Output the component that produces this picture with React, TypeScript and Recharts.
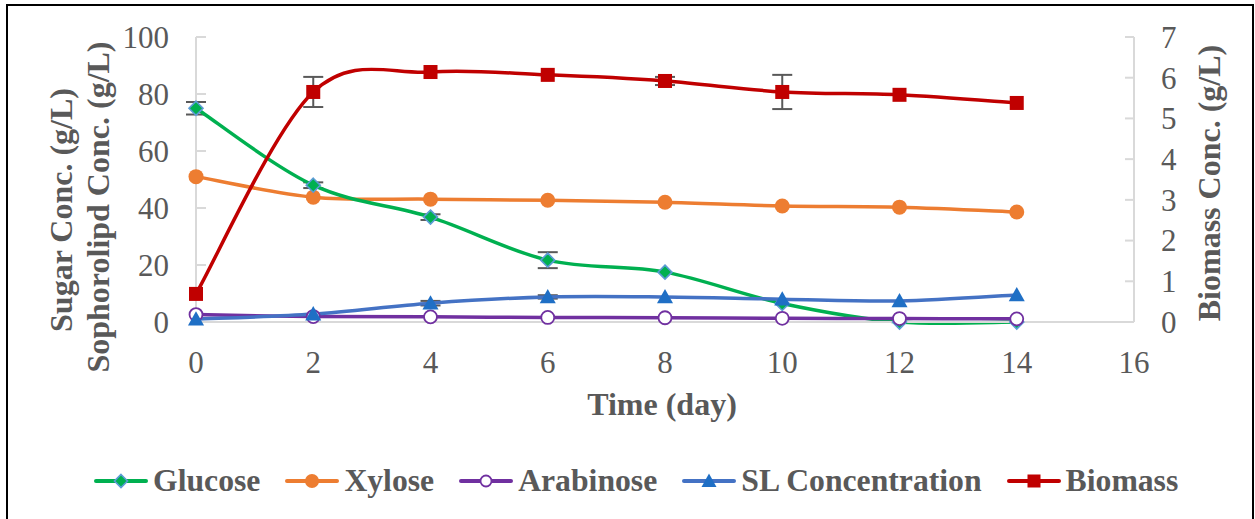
import { LineChart, Line, XAxis, YAxis, ErrorBar, Label } from 'recharts'

const days = [0, 2, 4, 6, 8, 10, 12, 14]
const glucose = [75, 48, 36.8, 21.7, 17.5, 6.5, 0, 0]
const glucoseErr = [2.2, 1, 1, 2.8, 0, 0, 0, 0]
const xylose = [51, 43.8, 43.1, 42.7, 42, 40.7, 40.3, 38.6]
const arabinose = [2.6, 1.9, 1.8, 1.6, 1.5, 1.3, 1.2, 1.1]
const slConc = [1, 2.8, 6.6, 8.8, 8.8, 8, 7.4, 9.5]
const slErr = [0, 0, 0.8, 0.6, 0, 0, 0, 0]
const biomass = [0.69, 5.65, 6.14, 6.07, 5.92, 5.65, 5.58, 5.38]
const biomassErr = [0, 0.37, 0, 0, 0.1, 0.42, 0, 0]

const xTicks = [0, 2, 4, 6, 8, 10, 12, 14, 16]
const leftTicks = [0, 20, 40, 60, 80, 100]
const rightTicks = [0, 1, 2, 3, 4, 5, 6, 7]

const data = days.map((d, i) => ({
  day: d,
  glucose: glucose[i], glucoseErr: glucoseErr[i],
  xylose: xylose[i],
  arabinose: arabinose[i],
  sl: slConc[i], slErr: slErr[i],
  biomass: biomass[i], biomassErr: biomassErr[i],
}))

const FONT = '"Liberation Serif", "Times New Roman", serif'
const GREY = '#595959'
const AXIS = '#d9d9d9'

// Excel-like smoothed line (Catmull-Rom style bezier)
function excelSmooth(context: any) {
  let pts: number[][] = []
  return {
    areaStart() {},
    areaEnd() {},
    lineStart() { pts = [] },
    point(x: number, y: number) { pts.push([+x, +y]) },
    lineEnd() {
      if (!pts.length) return
      context.moveTo(pts[0][0], pts[0][1])
      for (let i = 0; i < pts.length - 1; i++) {
        const p0 = pts[i - 1] || pts[i]
        const p1 = pts[i]
        const p2 = pts[i + 1]
        const p3 = pts[i + 2] || pts[i + 1]
        context.bezierCurveTo(
          p1[0] + (p2[0] - p0[0]) / 6, p1[1] + (p2[1] - p0[1]) / 6,
          p2[0] - (p3[0] - p1[0]) / 6, p2[1] - (p3[1] - p1[1]) / 6,
          p2[0], p2[1],
        )
      }
    },
  }
}

// marker shapes (sizes fixed here, recharts passes its own r)
const diamond = (cx: number, cy: number, s: number) => (
  <path d={`M${cx},${cy - s}L${cx + s},${cy}L${cx},${cy + s}L${cx - s},${cy}Z`} fill="#00b050" stroke="#5b9bd5" strokeWidth={1.6} />
)
const disc = (cx: number, cy: number, r: number) => <circle cx={cx} cy={cy} r={r} fill="#ed7d31" />
const ring = (cx: number, cy: number, r: number) => <circle cx={cx} cy={cy} r={r} fill="#fff" stroke="#7030a0" strokeWidth={1.8} />
const tri = (cx: number, cy: number, s: number) => (
  <path d={`M${cx},${cy - s}L${cx + s},${cy + s * 0.8}L${cx - s},${cy + s * 0.8}Z`} fill="#1f6fc5" />
)
const square = (cx: number, cy: number, s: number) => <rect x={cx - s} y={cy - s} width={s * 2} height={s * 2} fill="#c00000" />

const GlucoseDot = (p: any) => diamond(p.cx, p.cy, 7)
const XyloseDot = (p: any) => disc(p.cx, p.cy, 7.5)
const ArabinoseDot = (p: any) => ring(p.cx, p.cy, 6.5)
const SlDot = (p: any) => tri(p.cx, p.cy, 8)
const BiomassDot = (p: any) => square(p.cx, p.cy, 7)

const legendItems = [
  { name: 'Glucose', color: '#00b050', mark: () => diamond(27, 12, 6.5) },
  { name: 'Xylose', color: '#ed7d31', mark: () => disc(27, 12, 7) },
  { name: 'Arabinose', color: '#7030a0', mark: () => ring(27, 12, 5.5) },
  { name: 'SL Concentration', color: '#4472c4', mark: () => tri(27, 12, 7.5) },
  { name: 'Biomass', color: '#c00000', mark: () => square(27, 12, 6.5) },
]

const leftTitle = () => (
  <g fontFamily={FONT} fontWeight="bold" fontSize={32} fill={GREY} textAnchor="middle">
    <text transform="translate(72,210) rotate(-90)">Sugar Conc. (g/L)</text>
    <text transform="translate(109,207) rotate(-90)">Sophorolipd Conc. (g/L)</text>
  </g>
)

const rightTitle = () => (
  <text transform="translate(1220,183) rotate(-90)" fontFamily={FONT} fontWeight="bold" fontSize={32} fill={GREY} textAnchor="middle">
    Biomass Conc. (g/L)
  </text>
)

const xTitle = () => (
  <text x={662} y={415} fontFamily={FONT} fontWeight="bold" fontSize={32} fill={GREY} textAnchor="middle">
    Time (day)
  </text>
)

const tickStyle = { fontFamily: FONT, fontSize: 31, fill: GREY }

const RightTick = ({ y, payload }: any) => (
  <text x={1161} y={y} dy="0.35em" fontFamily={FONT} fontSize={31} fill={GREY} textAnchor="start">{payload.value}</text>
)

export default function App() {
  return (
    <div style={{ position: 'absolute', left: 0, top: 0, width: 1255, height: 519, background: '#fff', overflow: 'hidden', fontFamily: FONT }}>
      <div style={{ position: 'absolute', left: 0, top: 0 }}>
        <LineChart width={1255} height={519} data={data} margin={{ top: 37, right: 61, bottom: 137, left: 136 }}>
          <XAxis
            dataKey="day" type="number" domain={[0, 16]} ticks={xTicks}
            tick={tickStyle} tickLine={false} tickSize={0} tickMargin={29}
            axisLine={{ stroke: AXIS, strokeWidth: 2 }} height={60}
          >
            <Label content={xTitle} />
          </XAxis>
          <YAxis
            yAxisId="left" domain={[0, 100]} ticks={leftTicks} width={60}
            tick={tickStyle} tickSize={-10} tickMargin={37}
            tickLine={{ stroke: AXIS, strokeWidth: 2 }} axisLine={{ stroke: AXIS, strokeWidth: 2 }}
          >
            <Label content={leftTitle} />
          </YAxis>
          <YAxis
            yAxisId="right" orientation="right" domain={[0, 7]} ticks={rightTicks} width={60}
            tick={RightTick} tickSize={-9}
            tickLine={{ stroke: AXIS, strokeWidth: 2 }} axisLine={{ stroke: AXIS, strokeWidth: 2 }}
          >
            <Label content={rightTitle} />
          </YAxis>

          <Line yAxisId="left" dataKey="xylose" name="Xylose" type={excelSmooth as any} stroke="#ed7d31" strokeWidth={3.5} dot={XyloseDot} activeDot={false} isAnimationActive={false} />
          <Line yAxisId="left" dataKey="glucose" name="Glucose" type={excelSmooth as any} stroke="#00b050" strokeWidth={3.5} dot={GlucoseDot} activeDot={false} isAnimationActive={false}>
            <ErrorBar dataKey="glucoseErr" direction="y" width={10} stroke={GREY} strokeWidth={2} />
          </Line>
          <Line yAxisId="left" dataKey="arabinose" name="Arabinose" type={excelSmooth as any} stroke="#7030a0" strokeWidth={3.5} dot={ArabinoseDot} activeDot={false} isAnimationActive={false} />
          <Line yAxisId="left" dataKey="sl" name="SL Concentration" type={excelSmooth as any} stroke="#4472c4" strokeWidth={3.5} dot={SlDot} activeDot={false} isAnimationActive={false}>
            <ErrorBar dataKey="slErr" direction="y" width={10} stroke={GREY} strokeWidth={2} />
          </Line>
          <Line yAxisId="right" dataKey="biomass" name="Biomass" type={excelSmooth as any} stroke="#c00000" strokeWidth={3.5} dot={BiomassDot} activeDot={false} isAnimationActive={false}>
            <ErrorBar dataKey="biomassErr" direction="y" width={10} stroke={GREY} strokeWidth={2} />
          </Line>
        </LineChart>
      </div>

      <div style={{ position: 'absolute', left: 94, top: 461, height: 40, display: 'flex', alignItems: 'center', gap: 25, fontWeight: 'bold', fontSize: 31.7, color: GREY, whiteSpace: 'nowrap' }}>
        {legendItems.map(it => (
          <div key={it.name} style={{ display: 'flex', alignItems: 'center', gap: 5 }}>
            <svg width={54} height={24} style={{ display: 'block' }}>
              <line x1={2} y1={12} x2={52} y2={12} stroke={it.color} strokeWidth={4} strokeLinecap="round" />
              {it.mark()}
            </svg>
            <span>{it.name}</span>
          </div>
        ))}
      </div>

      <svg width={1255} height={519} style={{ position: 'absolute', left: 0, top: 0, pointerEvents: 'none' }}>
        <rect x={7} y={5} width={1246} height={530} fill="none" stroke="#000" strokeWidth={2} />
      </svg>
    </div>
  )
}
